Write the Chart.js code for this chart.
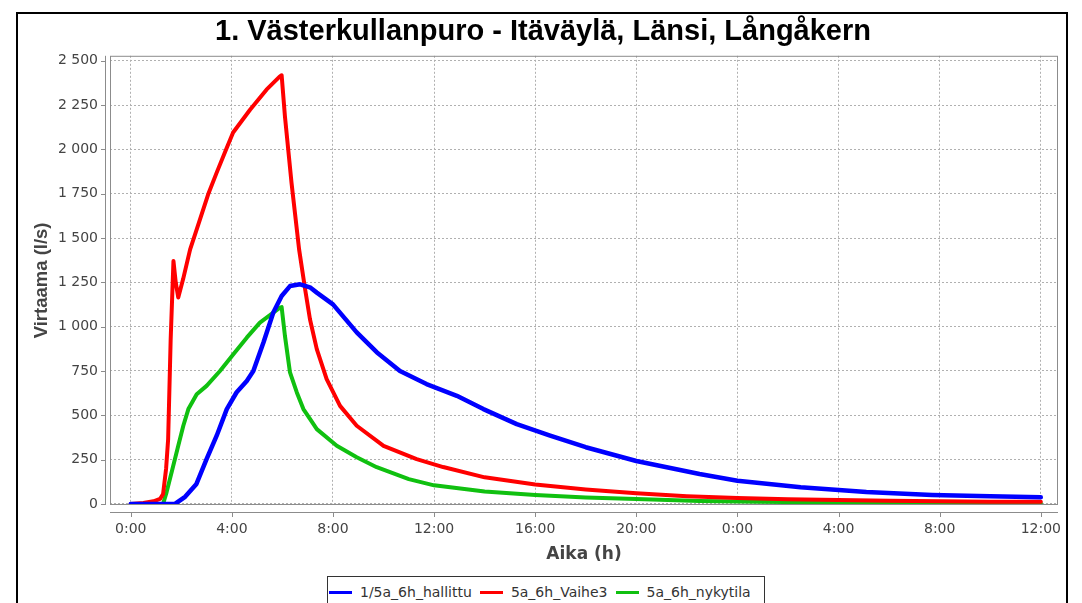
<!DOCTYPE html>
<html>
<head>
<meta charset="utf-8">
<script src="https://cdn.jsdelivr.net/npm/chart.js@4.4.1/dist/chart.umd.min.js"></script>
<style>
  body { margin: 0; background: #fff; width: 1082px; height: 603px; overflow: hidden; position: relative; font-family: "DejaVu Sans", sans-serif; }
  #frame { position: absolute; left: 16px; top: 12px; width: 1048px; height: 640px; border: 2px solid #000; }
  canvas { position: absolute; left: 0; top: 0; }
  #legend { position: absolute; left: 327px; top: 576px; width: 438px; height: 40px; border: 1px solid #333; background: #fff;
            display: flex; align-items: flex-start; padding-top: 7px; box-sizing: border-box; font-size: 14px; line-height: 16px; color: #333; }
  .item { display: flex; align-items: center; margin-left: 1px; margin-right: 7px; white-space: nowrap; }
  .swatch { width: 23px; height: 3px; margin-right: 8px; }
</style>
</head>
<body>
<div id="frame"></div>
<canvas id="flowChart" width="1082" height="603"></canvas>
<div id="legend"></div>
<script>
// ========== Data ==========
const chartTitle = "1. Västerkullanpuro - Itäväylä, Länsi, Långåkern";
const seriesNames = ["1/5a_6h_hallittu", "5a_6h_Vaihe3", "5a_6h_nykytila"];
const seriesColors = ["#0000ff", "#ff0000", "#10c010"];

const xTicks = [0, 4, 8, 12, 16, 20, 24, 28, 32, 36]; // hours from start
const yTicks = [0, 250, 500, 750, 1000, 1250, 1500, 1750, 2000, 2250, 2500];

// 1/5a_6h_hallittu
const blueHours = [0, 1.75, 2.15, 2.6, 3.0, 3.4, 3.8, 4.19, 4.59, 4.85, 5.25, 5.64, 5.97, 6.3, 6.7, 7.09, 7.36, 8.0,
  8.94, 9.73, 10.65, 11.7, 12.9, 13.95, 15.27, 16.59, 18, 20, 22.5, 24, 26.5, 29.1, 31.7, 34, 36];
const blueFlow = [0, 0, 40, 113, 253, 385, 535, 630, 694, 750, 911, 1080, 1173, 1229, 1239, 1222, 1192, 1126,
  968, 856, 750, 676, 610, 535, 450, 385, 320, 242, 169, 131, 94, 67, 51, 43, 38];

// 5a_6h_Vaihe3
const redHours = [0, 0.5, 0.9, 1.16, 1.28, 1.4, 1.48, 1.58, 1.69, 1.78, 1.88, 2.07, 2.35, 2.74, 3.06, 3.4, 3.8, 4.05,
  4.72, 5.37, 5.9, 5.97, 6.1, 6.36, 6.66, 6.9, 7.09, 7.36, 7.75, 8.28, 8.94, 10.0, 11.31, 12.36, 14, 16, 18, 20, 22,
  24, 26, 28, 30, 32, 34, 36];
const redFlow = [0, 5, 15, 28, 56, 200, 366, 929, 1370, 1250, 1165, 1267, 1436, 1605, 1745, 1869, 2010, 2095,
  2224, 2337, 2412, 2418, 2186, 1812, 1436, 1210, 1042, 873, 704, 553, 441, 328, 253, 208, 150, 110, 82, 60, 44,
  34, 26, 22, 18, 15, 13, 12];

// 5a_6h_nykytila
const greenHours = [0, 1.28, 1.42, 1.62, 1.88, 2.08, 2.28, 2.61, 3.0, 3.53, 4.06, 4.59, 5.11, 5.64, 5.9, 5.97, 6.1,
  6.3, 6.57, 6.83, 7.09, 7.36, 8.15, 8.94, 9.73, 11, 12, 14, 16, 18, 20, 22.5, 24.8, 28, 32, 36];
const greenFlow = [0, 0, 67, 180, 328, 441, 535, 619, 666, 750, 845, 938, 1023, 1079, 1107, 1110, 948,
  742, 629, 535, 480, 422, 328, 263, 207, 140, 105, 70, 50, 36, 28, 17, 12, 8, 5, 4];

// ========== Helpers ==========
const toPoints = (hours, flow) => hours.map((h, i) => ({ x: h, y: flow[i] }));
const spaced = (v) => String(v).replace(/\B(?=(\d{3})+(?!\d))/g, " ");

// draws plot outline + offset axis lines like the original
const axisFrame = {
  id: "axisFrame",
  afterDraw(chart) {
    const { ctx, chartArea: a, scales: { x, y } } = chart;
    ctx.save();
    ctx.strokeStyle = "#8c8c8c";
    ctx.lineWidth = 1;
    ctx.strokeRect(a.left + 0.5, a.top + 0.5, a.width - 1, a.height - 1);
    ctx.beginPath();
    ctx.moveTo(a.left - 4.5, a.top);
    ctx.lineTo(a.left - 4.5, a.bottom);
    yTicks.forEach((v) => {
      const py = Math.round(y.getPixelForValue(v)) + 0.5;
      ctx.moveTo(a.left - 9, py);
      ctx.lineTo(a.left - 4.5, py);
    });
    ctx.moveTo(a.left, a.bottom + 7.5);
    ctx.lineTo(a.right, a.bottom + 7.5);
    xTicks.forEach((h) => {
      const px = Math.round(x.getPixelForValue(h)) + 0.5;
      ctx.moveTo(px, a.bottom + 7.5);
      ctx.lineTo(px, a.bottom + 12);
    });
    ctx.stroke();
    ctx.restore();
  },
};

// ========== Chart ==========
const tickFont = { family: "DejaVu Sans", size: 14 };
const gridOpts = { color: "#b0b0b0", lineWidth: 1, drawTicks: false };

new Chart(document.getElementById("flowChart"), {
  type: "line",
  data: {
    datasets: [
      { label: seriesNames[0], data: toPoints(blueHours, blueFlow), borderColor: seriesColors[0], borderWidth: 4.5 },
      { label: seriesNames[1], data: toPoints(redHours, redFlow), borderColor: seriesColors[1], borderWidth: 4 },
      { label: seriesNames[2], data: toPoints(greenHours, greenFlow), borderColor: seriesColors[2], borderWidth: 4 },
    ],
  },
  options: {
    responsive: false,
    animation: false,
    devicePixelRatio: 1,
    elements: { point: { radius: 0 }, line: { tension: 0, borderJoinStyle: "round", borderCapStyle: "round" } },
    layout: { padding: { left: 28, right: 24, top: 0, bottom: 0 } },
    plugins: {
      legend: { display: false },
      tooltip: { enabled: false },
      title: {
        display: true,
        text: chartTitle,
        color: "#000",
        font: { family: "'Liberation Sans', sans-serif", size: 29, weight: "bold", lineHeight: 1.2 },
        padding: { top: 15, bottom: 6 },
      },
    },
    scales: {
      x: {
        type: "linear",
        min: -0.82,
        max: 36.68,
        afterBuildTicks: (s) => { s.ticks = xTicks.map((v) => ({ value: v })); },
        afterFit: (s) => { s.height = 98; },
        ticks: { font: tickFont, color: "#444", padding: 16, maxRotation: 0, callback: (v) => (v % 24) + ":00" },
        grid: gridOpts,
        border: { display: false, dash: [2, 2] },
        title: { display: true, text: "Aika (h)", color: "#444",
          font: { family: "DejaVu Sans", size: 17, weight: "bold", lineHeight: 1.2 }, padding: { top: 0, bottom: 38 } },
      },
      y: {
        min: -6,
        max: 2528,
        afterBuildTicks: (s) => { s.ticks = yTicks.map((v) => ({ value: v })); },
        afterFit: (s) => { s.width = 82; },
        ticks: { font: tickFont, color: "#444", padding: 12, callback: (v) => spaced(v) },
        grid: gridOpts,
        border: { display: false, dash: [2, 2] },
        title: { display: true, text: "Virtaama (l/s)", color: "#444",
          font: { family: "'Liberation Sans', sans-serif", size: 18.5, weight: "bold", lineHeight: 1.2 }, padding: { top: 3, bottom: 0 } },
      },
    },
  },
  plugins: [axisFrame],
});

// ========== Legend ==========
const legendBox = document.getElementById("legend");
legendBox.innerHTML = seriesNames.map((name, i) => `
  <div class="item"><span class="swatch" style="background:${seriesColors[i]}"></span>${name}</div>
`).join("");
</script>
</body>
</html>
